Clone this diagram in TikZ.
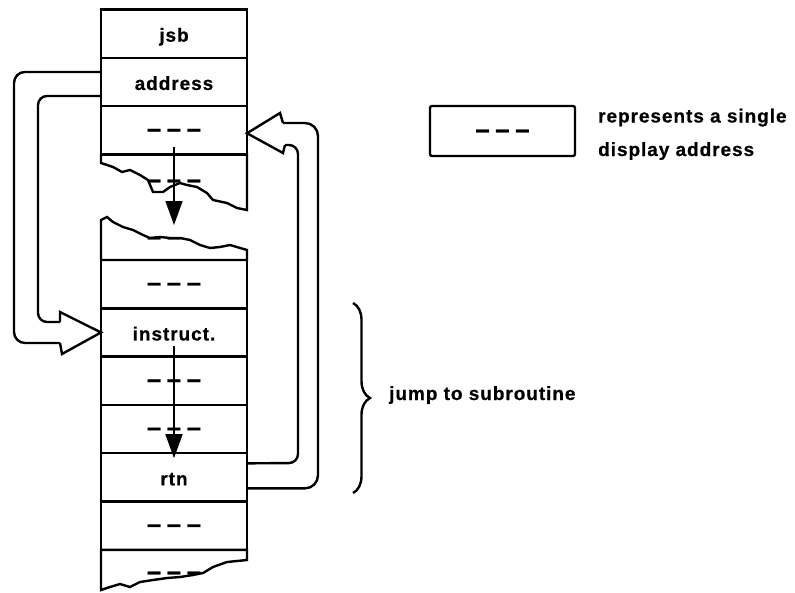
\documentclass[tikz,border=0pt]{standalone}
\usepackage{fontspec}
\setmainfont{Liberation Sans}[LetterSpace=5,BoldFeatures={FakeBold=0.6}]
\usetikzlibrary{arrows.meta,decorations.pathreplacing}

\newcommand{\dashrow}{{\fontsize{26}{26}\selectfont\textendash\hspace{5.5pt}\textendash\hspace{5.5pt}\textendash}}

\begin{document}
\begin{tikzpicture}[x=1pt,y=-1pt,line width=2.4pt,
  every node/.style={font=\fontsize{19}{23}\selectfont\bfseries},
  cell/.style={draw,rectangle,minimum width=146pt,minimum height=48.3pt,inner sep=0pt,outer sep=0pt,text height=16pt,text depth=0pt},
  dashcell/.style={cell,text height=14pt},
  tornrow/.style={inner sep=0pt,text height=14pt,text depth=0pt},
  flow/.style={-{Triangle[length=24pt,width=17pt]},line width=1.6pt},
  note/.style={anchor=base west,inner sep=0pt}]
  \useasboundingbox (0,0) rectangle (795,592);

  % Celdas de arriba
  \node[cell] (jsb) at (174,33.65) {jsb};
  \node[cell] (addr) at (174,81.95) {address};
  \node[dashcell] (dtop) at (174,130.25) {\dashrow};

  % Borde roto de arriba
  \begin{scope}
    \draw[clip] (101,154.4) -- (101,163) -- (113,167) -- (122,172) -- (130,170) -- (140,175) -- (148,180)
      -- (153,192) -- (163,192) -- (170,187) -- (180,183) -- (187,185) -- (197,187) -- (207,193)
      -- (213,200) -- (227,203) -- (237,208) -- (247,210) -- (247,154.4) -- cycle;
    \node[tornrow] (dtorn1) at (174,181) {\dashrow};
  \end{scope}

  % Borde roto de abajo (segundo bloque)
  \begin{scope}
    \draw[clip] (101,260) -- (101,220) -- (107,217) -- (113,222) -- (123,227) -- (133,230) -- (143,235)
      -- (150,238) -- (160,237) -- (170,238) -- (180,238) -- (190,240) -- (200,245) -- (210,248)
      -- (220,247) -- (230,245) -- (247,250) -- (247,260) -- cycle;
    \node[tornrow] (dtorn2) at (174,238) {\dashrow};
  \end{scope}

  % Celdas de abajo
  \node[dashcell] (d1) at (174,284.15) {\dashrow};
  \node[cell] (instr) at (174,332.45) {instruct.};
  \node[dashcell] (d2) at (174,380.75) {\dashrow};
  \node[dashcell] (d3) at (174,429.05) {\dashrow};
  \node[cell] (rtn) at (174,477.35) {rtn};
  \node[dashcell] (d4) at (174,525.65) {\dashrow};

  \begin{scope}
    \draw[clip] (101,549.8) -- (101,590) -- (110,587) -- (120,584) -- (130,587) -- (140,582) -- (153,580)
      -- (167,578) -- (180,577) -- (193,575) -- (203,573) -- (213,567) -- (227,562) -- (247,560)
      -- (247,549.8) -- cycle;
    \node[tornrow] (dtorn3) at (174,573) {\dashrow};
  \end{scope}

  % Flechas finas
  \coordinate (gapend) at (174,225);
  \draw[flow] ([yshift=7pt]dtop.south) -- (gapend);
  \draw[flow] ([yshift=11pt]instr.south) -- ([yshift=-5pt]rtn.north);

  % Flecha hueca: address -> instruct.
  \draw[rounded corners=11pt] ([yshift=10pt]addr.west) -| (14,343) -- (60,343);
  \draw[line join=miter] (60,343) -- (62,354) -- (instr.west) -- (60,312) -- (60,322);
  \draw[rounded corners=9pt] (60,322) -| (38,96) -- ([yshift=-14pt]addr.west);

  % Flecha hueca: rtn -> dtop
  \draw[rounded corners=13pt] ([yshift=-11pt]rtn.east) -| (318,123) -- (283,123);
  \draw[line join=miter] (283,123) -- (280,113) -- ([yshift=-3pt]dtop.east) -- (283,153) -- (285,145);
  \draw[rounded corners=9pt] (285,145) -| (298,463) -- ([yshift=14pt]rtn.east);

  % Leyenda
  \node[dashcell,minimum width=145pt,minimum height=50pt,rounded corners=2pt] (key) at (502.5,131) {\dashrow};
  \node[note] (keytext1) at (597,122.5) {represents a single};
  \node[note] (keytext2) at (597,156) {display address};

  % Llave
  \draw[decorate,decoration={brace,amplitude=17pt}] (353,303) -- (353,493);
  \node[note] (jsr) at (388,400) {jump to subroutine};
\end{tikzpicture}
\end{document}
